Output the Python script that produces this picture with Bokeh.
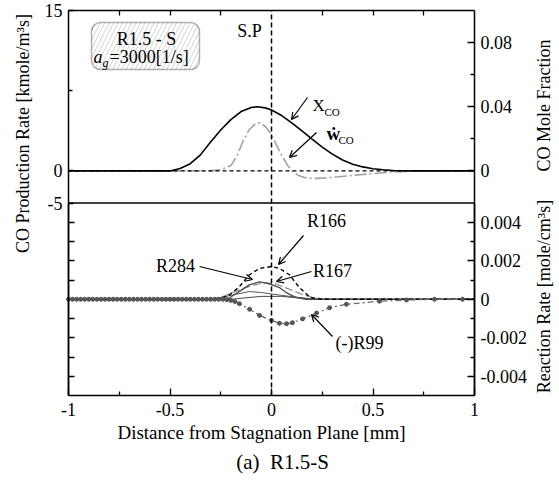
import math
from bokeh.plotting import figure
from bokeh.models import Range1d, LinearAxis, FixedTicker, Label, Arrow, OpenHead, BoxAnnotation
from bokeh.embed import file_html
from bokeh.resources import INLINE

# ---------------- data ----------------
# upper panel: CO mole fraction (right axis) and CO production rate (left axis)
xco_x = [-1.0, -0.5, -0.45, -0.4, -0.35, -0.3, -0.25, -0.2, -0.15, -0.1, -0.07, -0.03, 0.0,
         0.05, 0.1, 0.15, 0.2, 0.25, 0.3, 0.35, 0.4, 0.45, 0.5, 0.55, 0.6, 0.7, 1.0]
xco_y = [0.0, 0.0, 0.0015, 0.0045, 0.0100, 0.0180, 0.0255, 0.0320, 0.0370, 0.0395, 0.0400, 0.0393, 0.0380,
         0.0345, 0.0300, 0.0250, 0.0198, 0.0148, 0.0105, 0.0068, 0.0042, 0.0025, 0.0014, 0.0007, 0.0003, 0.0, 0.0]

wco_x = [-1.0, -0.3, -0.25, -0.2, -0.17, -0.14, -0.11, -0.08, -0.06, -0.03, 0.0, 0.02, 0.05, 0.08,
         0.1, 0.13, 0.17, 0.22, 0.27, 0.33, 0.4, 0.5, 0.6, 0.7, 0.8, 1.0]
wco_y = [0.0, 0.0, 0.12, 0.5, 1.4, 2.8, 3.85, 4.4, 4.5, 4.15, 3.4, 2.6, 1.45, 0.5,
         0.0, -0.4, -0.66, -0.7, -0.65, -0.55, -0.42, -0.25, -0.1, -0.02, 0.0, 0.0]

# lower panel: reaction rates [mole/cm3 s]
r166_x = [-1.0, -0.3, -0.25, -0.21, -0.16, -0.135, -0.11, -0.06, 0.0, 0.04, 0.09, 0.115, 0.14, 0.19, 0.25, 1.0]
r166_y = [0.0, 0.0, 0.00005, 0.0002, 0.00063, 0.00095, 0.00126, 0.0016, 0.0017, 0.0016, 0.00126, 0.0009, 0.00058, 0.0001, 0.0, 0.0]

r284_x = [-1.0, -0.25, -0.21, -0.16, -0.11, -0.06, -0.02, 0.04, 0.08, 0.12, 0.17, 1.0]
r284_y = [0.0, 0.0, 0.00005, 0.0004, 0.00075, 0.0009, 0.00083, 0.0006, 0.0003, 0.0001, 0.0, 0.0]

r167_x = [-1.0, -0.3, -0.25, -0.18, -0.1, -0.04, 0.02, 0.08, 0.14, 0.2, 0.26, 1.0]
r167_y = [0.0, 0.0, 0.0001, 0.0004, 0.0007, 0.00085, 0.0008, 0.00055, 0.0003, 0.0001, 0.0, 0.0]

rother1_x = [-1.0, -0.3, -0.2, -0.11, -0.05, 0.05, 0.19, 0.25, 1.0]
rother1_y = [0.0, 0.0, 0.0002, 0.0004, 0.00035, 0.0002, 0.00003, 0.0, 0.0]

rother2_x = [-1.0, -0.2, -0.05, 0.05, 0.2, 1.0]
rother2_y = [0.0, 0.0, 0.00015, 0.00015, 0.0, 0.0]

r99_x = [-1.0, -0.98, -0.96, -0.94, -0.92, -0.9, -0.88, -0.86, -0.84, -0.82, -0.8, -0.78, -0.76, -0.74,
         -0.72, -0.7, -0.68, -0.66, -0.64, -0.62, -0.6, -0.58, -0.56, -0.54, -0.52, -0.5, -0.48, -0.46,
         -0.44, -0.42, -0.4, -0.38, -0.36, -0.34, -0.32, -0.3, -0.28, -0.26, -0.24, -0.22, -0.2, -0.18,
         -0.158, -0.108, -0.059, 0.0, 0.039, 0.074, 0.103, 0.153, 0.222, 0.286, 0.369, 0.532, 0.665,
         0.803, 0.941]
r99_y = [0.0] * 39 + [-0.00002, -0.00006, -0.00012,
         -0.00023, -0.00052, -0.00084, -0.0011, -0.00125, -0.00127, -0.00122, -0.00102, -0.00072,
         -0.00044, -0.00026, -0.0001, -0.00004, 0.0, 0.0]

# ticks
x_ticks = [-1, -0.5, 0, 0.5, 1]
x_tick_labels = ["-1", "-0.5", "0", "0.5", "1"]
x_minor = [-0.75, -0.25, 0.25, 0.75]
left_ticks = [-3, 0, 15]
left_tick_labels = ["-5", "0", "15"]
left_minor = [7.5]
mf_ticks = [0, 0.04, 0.08]
mf_tick_labels = ["0", "0.04", "0.08"]
mf_minor = [0.02, 0.06]
rr_ticks = [-0.004, -0.002, 0, 0.002, 0.004]
rr_tick_labels = ["-0.004", "-0.002", "0", "0.002", "0.004"]
rr_minor = [-0.003, -0.001, 0.001, 0.003]
rr_left_minor = [-0.004, -0.003, -0.002, -0.001, 0.001, 0.002, 0.003, 0.004]

# ---------------- geometry (page pixels) ----------------
FONT = "Liberation Serif"
OX, OY = 1, 1            # where the canvas starts on the page
CW, CH = 555, 476        # canvas size
BOX_L, BOX_R, BOX_T, BOX_B = 69, 475, 11, 396   # plot box on the page


def rng(v_top, v_bot):
    """range over the whole canvas, given values at the plot-box top and bottom"""
    k = (v_top - v_bot) / (BOX_B - BOX_T)
    return Range1d(v_bot - (OY + CH - BOX_B) * k, v_top + (BOX_T - OY) * k)


def xrng(v_l, v_r):
    k = (v_r - v_l) / (BOX_R - BOX_L)
    return Range1d(v_l - (BOX_L - OX) * k, v_r + (OX + CW - BOX_R) * k)


XR = (-1.0, 1.0)
YL = (15.0, -21.0)          # left scale (upper panel spans -3..15)
YMF = (0.1, -0.14)          # mole fraction scale (upper panel spans -0.02..0.1)
YRR = (0.015, -0.005)       # reaction-rate scale (lower panel spans -0.005..0.005)

p = figure(frame_width=CW, frame_height=CH, min_border=0,
           x_range=xrng(*XR), y_range=rng(*YL),
           x_axis_location=None, y_axis_location=None,
           output_backend="svg", toolbar_location=None)
p.extra_y_ranges = {"mf": rng(*YMF), "rr": rng(*YRR)}
p.xgrid.visible = False
p.ygrid.visible = False
p.outline_line_color = None
p.background_fill_color = "white"
p.border_fill_color = "white"


def sx(px):  # page x -> data x
    return XR[0] + (px - BOX_L) * (XR[1] - XR[0]) / (BOX_R - BOX_L)


def sy(py):  # page y -> left-scale data y
    return YL[0] - (py - BOX_T) * (YL[0] - YL[1]) / (BOX_B - BOX_T)


def style_axis(ax):
    ax.axis_line_color = "black"
    ax.axis_line_width = 1.5
    ax.major_tick_in = 7
    ax.major_tick_out = 0
    ax.minor_tick_in = 4
    ax.minor_tick_out = 0
    ax.major_tick_line_width = 1.3
    ax.minor_tick_line_width = 1.3
    ax.major_tick_line_color = "black"
    ax.minor_tick_line_color = "black"
    ax.major_label_text_font = FONT
    ax.major_label_text_font_size = "18px"
    ax.major_label_text_color = "black"
    ax.major_label_standoff = 6


def add_axis(side, loc, bounds, ticks, minor, labels=None, y_range_name="default", tick_in=None, minor_in=None):
    ax = LinearAxis(fixed_location=loc, bounds=bounds, y_range_name=y_range_name,
                    ticker=FixedTicker(ticks=ticks, minor_ticks=minor))
    style_axis(ax)
    if labels is not None:
        ax.major_label_overrides = dict(zip(ticks, labels))
    if tick_in is not None:
        ax.major_tick_in = tick_in
    if minor_in is not None:
        ax.minor_tick_in = minor_in
    p.add_layout(ax, side)
    return ax


bx = add_axis("below", YL[1], XR, x_ticks, x_minor, x_tick_labels)
bx.major_label_standoff = 7
add_axis("above", YL[0], XR, [], [-0.75, -0.5, -0.25, 0.25, 0.5, 0.75], minor_in=5)
add_axis("left", XR[0], (YL[1], YL[0]), left_ticks, left_minor, left_tick_labels, tick_in=5)
add_axis("left", XR[0], (-0.005, 0.005), [], rr_left_minor, y_range_name="rr", minor_in=6)
add_axis("right", XR[1], (YMF[1], YMF[0]), mf_ticks, mf_minor, mf_tick_labels, y_range_name="mf")
add_axis("right", XR[1], (-0.005, 0.005), rr_ticks, rr_minor, rr_tick_labels, y_range_name="rr")

# ---------------- curves ----------------
p.line(wco_x, wco_y, line_color="#a3a3a3", line_width=1.6, line_dash="12 3 2 3")
p.line(xco_x, xco_y, y_range_name="mf", line_color="black", line_width=1.6)

p.line(rother2_x, rother2_y, y_range_name="rr", line_color="#333333", line_width=0.9)
p.line(rother1_x, rother1_y, y_range_name="rr", line_color="#444444", line_width=0.9)
p.line(r167_x, r167_y, y_range_name="rr", line_color="#8a8a8a", line_width=1.2, line_dash="8 3")
p.line(r284_x, r284_y, y_range_name="rr", line_color="#505050", line_width=1.4)
p.line(r166_x, r166_y, y_range_name="rr", line_color="black", line_width=1.4, line_dash="4 3")
p.line(r99_x, r99_y, y_range_name="rr", line_color="#6a6a6a", line_width=1.3, line_dash="6 3 2 3")
p.scatter(r99_x, r99_y, y_range_name="rr", size=4, marker="circle", fill_color="#555555", line_color="#555555")

# reference lines inside the plot box
p.segment(x0=[XR[0]], y0=[0], x1=[XR[1]], y1=[0], line_color="black", line_width=1.1, line_dash="4 3")
p.segment(x0=[XR[0]], y0=[-3], x1=[XR[1]], y1=[-3], line_color="black", line_width=1.6)
p.segment(x0=[0], y0=[YL[1]], x1=[0], y1=[YL[0]], line_color="black", line_width=1.5, line_dash="5 3")

# ---------------- annotations ----------------
box = BoxAnnotation(left=sx(92), right=sx(200), top=sy(23), bottom=sy(70),
                    fill_color="white", fill_alpha=1.0, line_color="black", line_width=1.5,
                    hatch_pattern="/", hatch_color="#c8c8c8", hatch_scale=9, hatch_weight=0.8,
                    border_radius=9)
p.add_layout(box)


def lab(x, y, text, size="18px", align="center", style="normal", angle=0.0, baseline="middle"):
    p.add_layout(Label(x=sx(x), y=sy(y), text=text, text_font=FONT, text_font_size=size,
                       text_align=align, text_baseline=baseline, text_font_style=style,
                       text_color="black", angle=angle))


lab(147, 39, "R1.5 - S")
lab(103, 57, "a", align="right", style="italic")
lab(103, 63, "g", size="12px", align="left", style="italic")
lab(110, 57, "=3000[1/s]", align="left")
lab(250, 31, "S.P")
lab(313, 106, "X", align="left", size="17px")
lab(325, 112, "CO", align="left", size="11px")
lab(327, 134, "ẇ", align="left", size="19px", style="bold")
lab(339, 140, "CO", align="left", size="11px")
lab(327, 221, "R166")
lab(333, 271, "R167")
lab(176, 266, "R284")
lab(360, 343, "(-)R99")

lab(23, 134, "CO Production Rate [kmole/m³s]", angle=math.pi / 2)
lab(544, 106, "CO Mole Fraction", angle=math.pi / 2)
lab(544, 297, "Reaction Rate [mole/cm³s]", angle=math.pi / 2)
lab(262, 433, "Distance from Stagnation Plane [mm]", size="19px")
lab(283, 462, "(a)\u00a0 R1.5-S", size="21px")

arrows = [((308, 98), (292, 120)), ((317, 133), (290, 158)), ((304, 236), (279, 265)),
          ((312, 272), (277, 282)), ((200, 267), (253, 280)), ((333, 337), (312, 315))]
for (a, b) in arrows:
    p.add_layout(Arrow(x_start=sx(a[0]), y_start=sy(a[1]), x_end=sx(b[0]), y_end=sy(b[1]),
                       line_color="black", line_width=1.2,
                       end=OpenHead(size=7, line_color="black", line_width=1.2)))

open("out.html", "w").write(file_html(p, INLINE))
